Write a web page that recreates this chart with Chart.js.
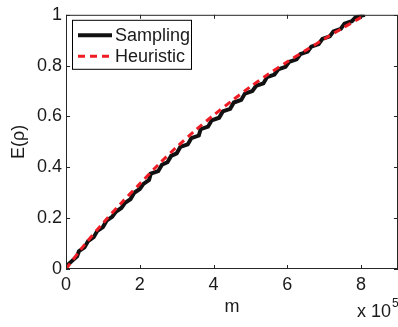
<!DOCTYPE html>
<html>
<head>
<meta charset="utf-8">
<script src="https://cdn.jsdelivr.net/npm/chart.js@4/dist/chart.umd.min.js"></script>
<style>
  html, body { margin: 0; padding: 0; background: #fff; }
  #wrap { width: 398px; height: 327px; }
</style>
</head>
<body>
<div id="wrap"><canvas id="c" width="398" height="327"></canvas></div>
<script>
// m values are in units of 10^5
const samplingM = [0, 0.15, 0.3, 0.35, 0.5, 0.6, 0.75, 0.85, 1.0, 1.1, 1.25, 1.35, 1.5, 1.6, 1.75, 1.85, 2.0, 2.1, 2.25, 2.3,
  2.5, 2.6, 2.75, 2.85, 3.0, 3.1, 3.3, 3.4, 3.6, 3.65, 3.85, 3.95, 4.15, 4.25, 4.45, 4.55, 4.75, 4.85, 5.05, 5.15,
  5.35, 5.45, 5.65, 5.75, 5.95, 6.05, 6.25, 6.35, 6.55, 6.65, 6.85, 6.95, 7.15, 7.25, 7.45, 7.55, 7.75, 7.85, 8.1];
const samplingE = [0.01, 0.03, 0.05, 0.07, 0.085, 0.11, 0.125, 0.15, 0.165, 0.19, 0.205, 0.225, 0.24, 0.26, 0.275, 0.30, 0.315, 0.335, 0.35, 0.375,
  0.385, 0.41, 0.42, 0.445, 0.455, 0.48, 0.49, 0.515, 0.525, 0.55, 0.56, 0.585, 0.595, 0.62, 0.63, 0.655, 0.665, 0.69, 0.70, 0.72,
  0.73, 0.755, 0.765, 0.785, 0.795, 0.815, 0.825, 0.845, 0.855, 0.875, 0.885, 0.905, 0.915, 0.935, 0.945, 0.965, 0.975, 0.99, 1.0];

const heuristicM = [0, 0.5, 1, 1.5, 2, 2.5, 3, 3.5, 4, 4.5, 5, 5.5, 6, 6.5, 7, 7.5, 8, 8.1];
const heuristicE = [0, 0.095, 0.18, 0.26, 0.335, 0.41, 0.48, 0.545, 0.605, 0.662, 0.717, 0.768, 0.815, 0.86, 0.905, 0.948, 0.99, 1.0];

const xTicks = [0, 2, 4, 6, 8];
const yTicks = [0, 0.2, 0.4, 0.6, 0.8, 1];

const FONT = 'Liberation Sans, Arial, sans-serif';
const AXIS = '#262626';
const TXT = '#1a1a1a';

function pts(xs, ys) { return xs.map((x, i) => ({ x: x, y: ys[i] })); }

// box, inward ticks, legend and the exponent note, MATLAB style
const boxPlugin = {
  id: 'box',
  afterDatasetsDraw(chart) {
    const ctx = chart.ctx, a = chart.chartArea;
    const xs = chart.scales.x, ys = chart.scales.y;
    ctx.save();
    ctx.strokeStyle = AXIS;
    ctx.lineWidth = 1;
    ctx.strokeRect(a.left + 0.5, a.top + 0.5, a.right - a.left - 1, a.bottom - a.top - 1);
    ctx.beginPath();
    xTicks.forEach(v => {
      const px = Math.round(xs.getPixelForValue(v)) + 0.5;
      ctx.moveTo(px, a.bottom); ctx.lineTo(px, a.bottom - 4);
      ctx.moveTo(px, a.top); ctx.lineTo(px, a.top + 4);
    });
    yTicks.forEach(v => {
      const py = Math.round(ys.getPixelForValue(v)) + 0.5;
      ctx.moveTo(a.left, py); ctx.lineTo(a.left + 4, py);
      ctx.moveTo(a.right, py); ctx.lineTo(a.right - 4, py);
    });
    ctx.stroke();

    // legend
    const lx = a.left + 6, ly = a.top + 5, lw = 119, lh = 49;
    ctx.fillStyle = '#fff';
    ctx.fillRect(lx, ly, lw, lh);
    ctx.strokeStyle = '#000';
    ctx.strokeRect(lx + 0.5, ly + 0.5, lw, lh);
    ctx.font = '18px ' + FONT;
    ctx.textBaseline = 'middle';
    ctx.textAlign = 'left';
    chart.data.datasets.forEach((ds, i) => {
      const cy = ly + 15.5 + i * 21;
      ctx.beginPath();
      ctx.strokeStyle = ds.borderColor;
      ctx.lineWidth = ds.borderWidth;
      ctx.setLineDash(ds.borderDash || []);
      ctx.moveTo(lx + 6, cy); ctx.lineTo(lx + 40, cy);
      ctx.stroke();
      ctx.setLineDash([]);
      ctx.fillStyle = TXT;
      ctx.fillText(ds.label, lx + 43, cy + 1);
    });

    // x 10^5
    ctx.fillStyle = TXT;
    ctx.font = '18px ' + FONT;
    ctx.textBaseline = 'alphabetic';
    ctx.fillText('x 10', 357, 317);
    ctx.font = '12px ' + FONT;
    ctx.fillText('5', 392, 307);
    ctx.restore();
  }
};

new Chart(document.getElementById('c'), {
  type: 'line',
  data: {
    datasets: [
      { label: 'Sampling', data: pts(samplingM, samplingE), borderColor: '#111', borderWidth: 4,
        borderJoinStyle: 'miter', pointRadius: 0, tension: 0, order: 2 },
      { label: 'Heuristic', data: pts(heuristicM, heuristicE), borderColor: '#ee1c25', borderWidth: 3,
        borderDash: [7, 5], pointRadius: 0, tension: 0.3, order: 1 }
    ]
  },
  options: {
    responsive: false,
    animation: false,
    layout: { padding: { top: 11, right: 0, left: 0, bottom: 0 } },
    plugins: { legend: { display: false }, tooltip: { enabled: false } },
    scales: {
      x: {
        type: 'linear', min: 0, max: 9,
        afterFit(s) { s.height = 58; },
        afterBuildTicks(s) { s.ticks = xTicks.map(v => ({ value: v })); },
        grid: { display: false, drawTicks: false },
        border: { display: false },
        ticks: { color: TXT, font: { family: FONT, size: 18 }, padding: 5, callback: v => String(v) },
        title: { display: true, text: 'm', color: TXT, font: { family: FONT, size: 18 }, padding: { top: 0, bottom: 9 } }
      },
      y: {
        type: 'linear', min: 0, max: 1,
        afterFit(s) { s.width = 66; },
        afterBuildTicks(s) { s.ticks = yTicks.map(v => ({ value: v })); },
        grid: { display: false, drawTicks: false },
        border: { display: false },
        ticks: { color: TXT, font: { family: FONT, size: 18 }, padding: 4, callback: v => String(v) },
        title: { display: true, text: 'E(ρ)', color: TXT, font: { family: FONT, size: 18 }, padding: { top: 8, bottom: 0 } }
      }
    }
  },
  plugins: [boxPlugin]
});
</script>
</body>
</html>
